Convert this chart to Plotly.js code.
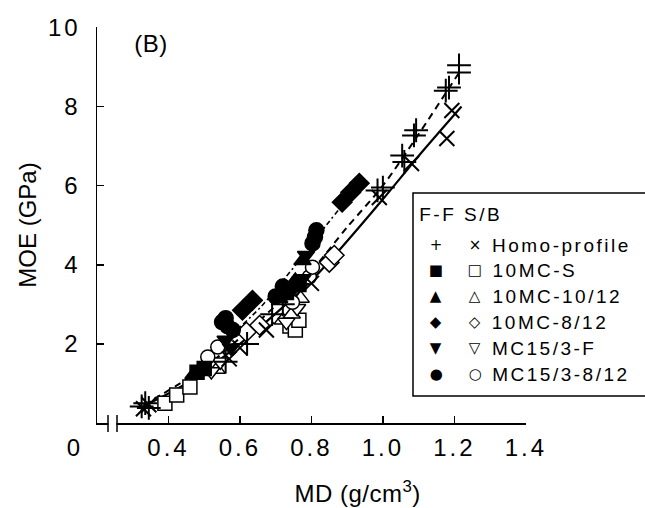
<!DOCTYPE html>
<html>
<head>
<meta charset="utf-8">
<script src="https://cdn.plot.ly/plotly-3.0.1.min.js"></script>
<style>
html,body{margin:0;padding:0;background:#fff;}
#chart .xtick text, #chart .ytick text {letter-spacing:3px;}
#chart .annotation .annotation-text {letter-spacing:2.5px;}
#chart .annotation[data-index="0"] .annotation-text,
#chart .annotation[data-index="1"] .annotation-text,
#chart .annotation[data-index="2"] .annotation-text {letter-spacing:0.5px;}
</style>
</head>
<body>
<div id="chart" style="width:645px;height:508px;"></div>
<script>
// ---- data ----
const homoFF_x = [0.325,0.335,0.345,0.56,0.62,0.69,0.72,0.985,1.0,1.054,1.06,1.087,1.093,1.176,1.185,1.213,1.213];
const homoFF_y = [0.42,0.50,0.38,1.55,2.0,2.75,3.0,5.88,5.95,6.76,6.6,7.27,7.4,8.4,8.48,8.86,9.04];
const homoSB_x = [0.33,0.345,0.57,0.60,0.674,0.80,0.99,1.08,1.179,1.193];
const homoSB_y = [0.36,0.46,1.62,1.9,2.35,3.53,5.7,6.56,7.19,7.9];
const mcS_F_x = [0.48,0.50,0.73,0.765];
const mcS_F_y = [1.28,1.38,3.3,3.5];
const mcS_O_x = [0.39,0.423,0.46,0.74,0.755,0.765];
const mcS_O_y = [0.5,0.71,0.91,2.45,2.35,2.6];
const mc1012_F_x = [0.47,0.71,0.755,0.775];
const mc1012_F_y = [1.22,3.15,3.6,4.1];
const mc1012_O_x = [0.52,0.535,0.72,0.745,0.77];
const mc1012_O_y = [1.5,1.35,2.6,2.75,3.15];
const mc812_F_x = [0.607,0.635,0.886,0.91,0.934];
const mc812_F_y = [2.85,3.1,5.58,5.83,6.06];
const mc812_O_x = [0.618,0.655,0.85,0.864];
const mc812_O_y = [2.3,2.47,4.06,4.24];
const mc153F_F_x = [0.56,0.575,0.745,0.775,0.785];
const mc153F_F_y = [2.1,1.9,3.35,3.65,4.24];
const mc153F_O_x = [0.52,0.545,0.73,0.76];
const mc153F_O_y = [1.3,1.55,2.55,2.9];
const mc153812_F_x = [0.55,0.565,0.58,0.56,0.70,0.72,0.803,0.81,0.814];
const mc153812_F_y = [2.55,2.45,2.35,2.65,3.2,3.45,4.54,4.7,4.87];
const mc153812_O_x = [0.51,0.538,0.747,0.794,0.803];
const mc153812_O_y = [1.67,1.92,3.05,3.69,3.94];
// fitted curves
const fitSolid_x = [0.33,0.45,0.6,0.8,0.99,1.1,1.22];
const fitSolid_y = [0.42,1.0,2.0,3.6,5.55,6.75,8.0];
const fitDash_x = [0.33,0.5,0.65,0.8,0.9,1.0,1.1,1.22];
const fitDash_y = [0.45,1.4,2.55,3.85,4.95,6.0,7.3,8.95];
const fitDot_x = [0.45,0.55,0.66,0.72,0.77,0.82,0.9,0.95];
const fitDot_y = [1.15,2.0,2.95,3.6,4.15,4.75,5.65,6.15];
// axis ticks
const xTickVals = [0.4,0.6,0.8,1.0,1.2,1.4];
const xTickText = ["0.4","0.6","0.8","1.0","1.2","1.4"];
const yTickVals = [2,4,6,8,10];
const yTickText = ["2","4","6","8","10"];
// legend
const legendHeader = "F-F S/B";
const legendLabels = ["Homo-profile","10MC-S","10MC-10/12","10MC-8/12","MC15/3-F","MC15/3-8/12"];
const legendFilled = ["+","\u25A0","\u25B2","\u25C6","\u25BC","\u25CF"];
const legendOpen = ["\u00D7","\u25A1","\u25B3","\u25C7","\u25BD","\u25CB"];

// ---- layout geometry helpers (pixel -> paper) ----
const L=97, R=526, T=27, B=423;
const px = x => (x-L)/(R-L);
const py = y => (B-y)/(B-T);
const SPACING = 2.5; // css letter-spacing of legend text (spreads around the centre)
const leftFix = s => s.length*SPACING/2;

const FONT = "Liberation Sans, Arial, Helvetica, sans-serif";
const SYM = "DejaVu Sans, sans-serif";

function pts(x,y,symbol,size,filled,lw){
  return {x:x,y:y,type:'scatter',mode:'markers',showlegend:false,cliponaxis:false,hoverinfo:'skip',
    marker:{symbol:symbol,size:size,color:filled?'#000':'#fff',line:{color:'#000',width:lw||1.5}}};
}
function thin(x,y,symbol,size){
  return {x:x,y:y,type:'scatter',mode:'markers',showlegend:false,cliponaxis:false,hoverinfo:'skip',
    marker:{symbol:symbol,size:size,color:'#000',line:{color:'#000',width:2}}};
}
function line(x,y,dash,width){
  return {x:x,y:y,type:'scatter',mode:'lines',showlegend:false,hoverinfo:'skip',
    line:{color:'#000',width:width,dash:dash,shape:'spline',smoothing:0.8}};
}
const traces = [
  line(fitSolid_x,fitSolid_y,'solid',2.2),
  line(fitDash_x,fitDash_y,'7px,5px',2),
  line(fitDot_x,fitDot_y,'5px,3px,2px,3px',1.6),
  pts(mcS_O_x,mcS_O_y,'square',14,false),
  pts(mc1012_O_x,mc1012_O_y,'triangle-up',15,false),
  pts(mc812_O_x,mc812_O_y,'diamond',15,false),
  pts(mc153F_O_x,mc153F_O_y,'triangle-down',15,false),
  pts(mc153812_O_x,mc153812_O_y,'circle',14,false),
  pts(mcS_F_x,mcS_F_y,'square',14,true),
  pts(mc1012_F_x,mc1012_F_y,'triangle-up',15,true),
  pts(mc812_F_x,mc812_F_y,'diamond',15,true),
  pts(mc153F_F_x,mc153F_F_y,'triangle-down',15,true),
  pts(mc153812_F_x,mc153812_F_y,'circle',15,true),
  thin(homoFF_x,homoFF_y,'cross-thin-open',17),
  thin(homoSB_x,homoSB_y,'x-thin-open',15)
];

const annotations = [
  {text:"(B)",xref:'paper',yref:'paper',x:px(151),y:py(43),showarrow:false,xanchor:'center',yanchor:'middle',font:{family:FONT,size:24,color:'#000'}},
  {text:"0",xref:'paper',yref:'paper',x:px(73),y:py(447),showarrow:false,xanchor:'center',yanchor:'middle',font:{family:FONT,size:24,color:'#000'}},
  {text:"MD (g/cm<sup>3</sup>)",xref:'paper',yref:'paper',x:px(357),y:py(492),showarrow:false,xanchor:'center',yanchor:'middle',font:{family:FONT,size:24,color:'#000'}},
  {text:legendHeader,xref:'paper',yref:'paper',x:px(417+leftFix(legendHeader)),y:py(215),showarrow:false,xanchor:'left',yanchor:'middle',font:{family:FONT,size:19,color:'#000'}}
];
const rowY=[245,270,296,322,348,374];
legendLabels.forEach((lab,i)=>{
  annotations.push({text:legendFilled[i],xref:'paper',yref:'paper',x:px(437),y:py(rowY[i]),showarrow:false,xanchor:'center',yanchor:'middle',font:{family:SYM,size:15,color:'#000'}});
  annotations.push({text:legendOpen[i],xref:'paper',yref:'paper',x:px(476),y:py(rowY[i]),showarrow:false,xanchor:'center',yanchor:'middle',font:{family:SYM,size:15,color:'#000'}});
  annotations.push({text:lab,xref:'paper',yref:'paper',x:px(490+leftFix(lab)),y:py(rowY[i]),showarrow:false,xanchor:'left',yanchor:'middle',font:{family:FONT,size:19,color:'#000'}});
});

const shapes = [
  // legend frame
  {type:'rect',xref:'paper',yref:'paper',x0:px(413),x1:px(660),y0:py(396),y1:py(193),line:{color:'#000',width:1.5},fillcolor:'rgba(0,0,0,0)',layer:'above'},
  // axis break
  {type:'rect',xref:'paper',yref:'paper',x0:px(108.5),x1:px(116.5),y0:py(426),y1:py(420),line:{width:0},fillcolor:'#fff',layer:'above'},
  {type:'line',xref:'paper',yref:'paper',x0:px(108),x1:px(108),y0:py(415),y1:py(432),line:{color:'#000',width:1.5},layer:'above'},
  {type:'line',xref:'paper',yref:'paper',x0:px(117),x1:px(117),y0:py(415),y1:py(432),line:{color:'#000',width:1.5},layer:'above'}
];

const layout = {
  width:645,height:508,
  margin:{l:L,r:645-R,t:T,b:508-B,pad:0},
  paper_bgcolor:'#fff',plot_bgcolor:'#fff',
  showlegend:false,
  font:{family:FONT,size:24,color:'#000'},
  xaxis:{range:[0.2,1.4005],tickvals:xTickVals,ticktext:xTickText,ticks:'inside',ticklen:7,tickwidth:1.5,tickcolor:'#000',
    showline:true,linewidth:1.5,linecolor:'#000',showgrid:false,zeroline:false,mirror:false,automargin:false,
    tickfont:{family:FONT,size:24,color:'#000'},ticklabelstandoff:3},
  yaxis:{range:[0,10.01],tickvals:yTickVals,ticktext:yTickText,ticks:'inside',ticklen:7,tickwidth:1.5,tickcolor:'#000',
    showline:true,linewidth:1.5,linecolor:'#000',showgrid:false,zeroline:false,mirror:false,automargin:false,
    tickfont:{family:FONT,size:24,color:'#000'},ticklabelstandoff:10,
    title:{text:"MOE (GPa)",font:{family:FONT,size:24,color:'#000'},standoff:10}},
  annotations:annotations,
  shapes:shapes
};
Plotly.newPlot('chart',traces,layout,{displayModeBar:false,staticPlot:true});
</script>
</body>
</html>
